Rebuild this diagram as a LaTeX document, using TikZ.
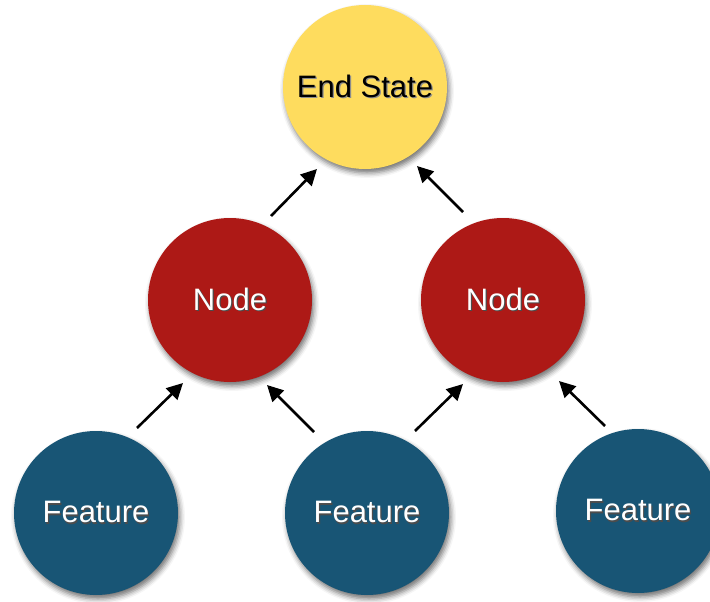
\documentclass[tikz,border=0pt]{standalone}
\usepackage{fontspec}
\setmainfont{Liberation Sans}
\usetikzlibrary{arrows.meta,shadows.blur}

\definecolor{goalyellow}{HTML}{FEDC5E}
\definecolor{nodered}{HTML}{AD1916}
\definecolor{featureblue}{HTML}{185575}

% text with a soft offset shadow underneath
\newcommand{\shadowtext}[3]{%
  \rlap{\hspace{1.2pt}\raisebox{-1.8pt}{\textcolor{#2}{#1}}}\textcolor{#3}{#1}}

\tikzset{
  bubble/.style={circle, minimum size=164pt, inner sep=0pt,
    font=\fontsize{31}{36}\selectfont,
    blur shadow={shadow xshift=2pt, shadow yshift=-4pt,
      shadow blur radius=5pt, shadow opacity=55}},
  goal/.style={bubble, fill=goalyellow},
  mid/.style={bubble, fill=nodered},
  leaf/.style={bubble, fill=featureblue},
  flow/.style={line width=2.6pt, -{Triangle[length=16pt,width=16pt]}}
}

\begin{document}
\begin{tikzpicture}[x=1pt,y=-1pt]
  \useasboundingbox (0,0) rectangle (710,602);

  % circles
  \node[goal] (end) at (365,87) {\shadowtext{End State}{black!45}{black}};
  \node[mid]  (n1)  at (230,300) {\shadowtext{Node}{black!70}{white}};
  \node[mid]  (n2)  at (503,300) {\shadowtext{Node}{black!70}{white}};
  \node[leaf] (f1)  at (96,513)  {\shadowtext{Feature}{black!70}{white}};
  \node[leaf] (f2)  at (367,513) {\shadowtext{Feature}{black!70}{white}};
  \node[leaf] (f3)  at (638,511) {\shadowtext{Feature}{black!70}{white}};

  % free-standing arrow ends between the circles
  \coordinate (a1s) at (271,216); \coordinate (a1e) at (317,169);
  \coordinate (a2s) at (463,212); \coordinate (a2e) at (417,166);
  \coordinate (b1s) at (137,428); \coordinate (b1e) at (183,383);
  \coordinate (b2s) at (314,432); \coordinate (b2e) at (267,385);
  \coordinate (b3s) at (415,431); \coordinate (b3e) at (463,384);
  \coordinate (b4s) at (605,426); \coordinate (b4e) at (559,381);

  % arrows
  \draw[flow] (a1s) -- (a1e);
  \draw[flow] (a2s) -- (a2e);
  \draw[flow] (b1s) -- (b1e);
  \draw[flow] (b2s) -- (b2e);
  \draw[flow] (b3s) -- (b3e);
  \draw[flow] (b4s) -- (b4e);
\end{tikzpicture}
\end{document}
